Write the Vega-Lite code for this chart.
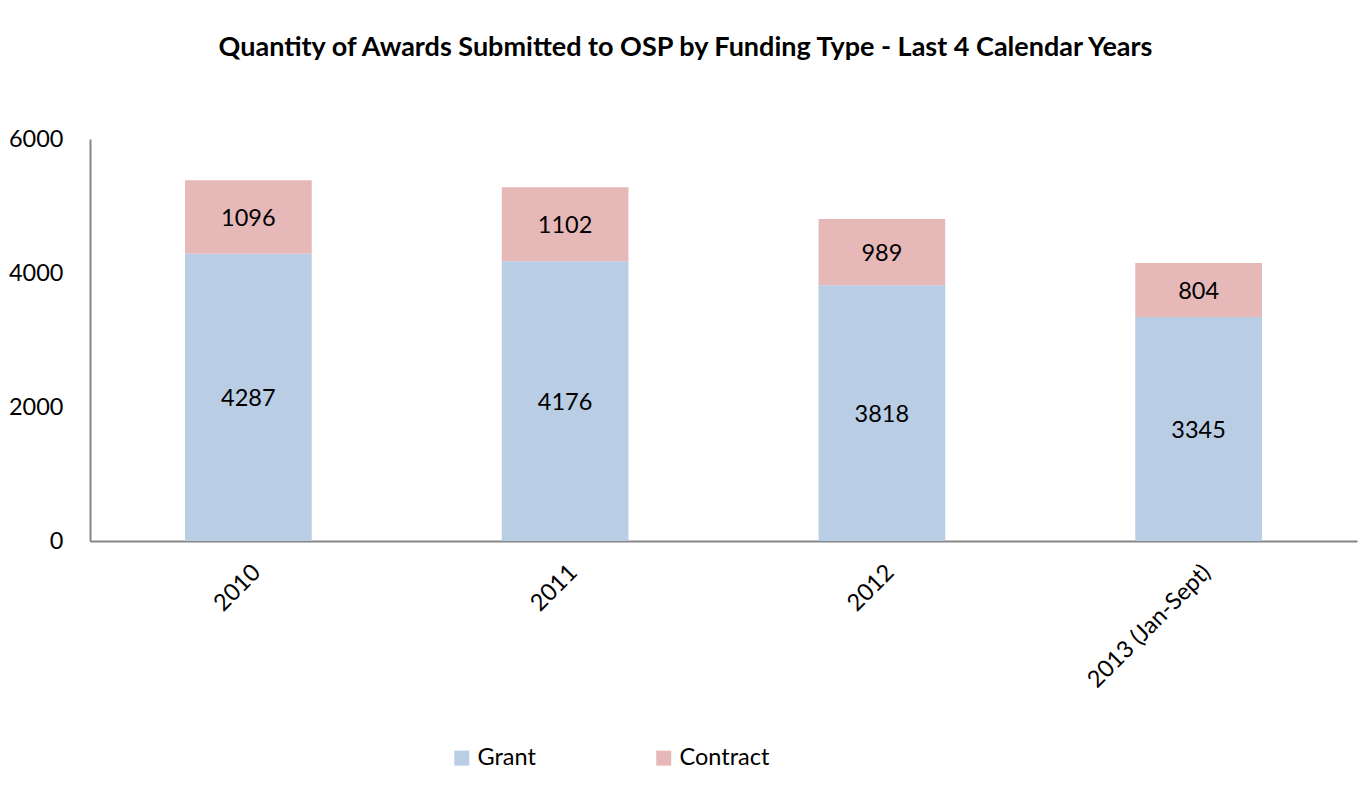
{
  "$schema": "https://vega.github.io/schema/vega-lite/v6.json",
  "width": 1267,
  "height": 402,
  "autosize": "none",
  "padding": {"left": 90, "top": 139, "right": 13, "bottom": 261},
  "background": "white",
  "config": {
    "font": "Lato",
    "view": {"stroke": null}
  },
  "title": {
    "text": "Quantity of Awards Submitted to OSP by Funding Type - Last 4 Calendar Years",
    "font": "Lato",
    "fontSize": 27,
    "fontWeight": "bold",
    "color": "#000000",
    "anchor": "middle",
    "frame": "group",
    "dx": -38,
    "offset": 65
  },
  "data": {
    "values": [
      {"year": "2010", "type": "Grant", "count": 4287},
      {"year": "2010", "type": "Contract", "count": 1096},
      {"year": "2011", "type": "Grant", "count": 4176},
      {"year": "2011", "type": "Contract", "count": 1102},
      {"year": "2012", "type": "Grant", "count": 3818},
      {"year": "2012", "type": "Contract", "count": 989},
      {"year": "2013 (Jan-Sept)", "type": "Grant", "count": 3345},
      {"year": "2013 (Jan-Sept)", "type": "Contract", "count": 804}
    ]
  },
  "encoding": {
    "x": {
      "field": "year",
      "type": "nominal",
      "sort": null,
      "scale": {"paddingInner": 0.6, "paddingOuter": 0.3},
      "axis": {
        "title": null,
        "labelAngle": -45,
        "labelFontSize": 23.5,
        "labelColor": "#000000",
        "labelPadding": 19,
        "ticks": false,
        "tickSize": 0,
        "domainColor": "#868686",
        "domainWidth": 2
      }
    }
  },
  "layer": [
    {
      "mark": {"type": "bar"},
      "encoding": {
        "y": {
          "field": "count",
          "type": "quantitative",
          "stack": "zero",
          "scale": {"domain": [0, 6000]},
          "axis": {
            "title": null,
            "values": [0, 2000, 4000, 6000],
            "format": "d",
            "grid": false,
            "labelFontSize": 23.5,
            "labelColor": "#000000",
            "labelPadding": 27,
            "ticks": false,
            "tickSize": 0,
            "domainColor": "#868686",
            "domainWidth": 2
          }
        },
        "color": {
          "field": "type",
          "type": "nominal",
          "scale": {"domain": ["Grant", "Contract"], "range": ["#B9CDE5", "#E6B9B8"]},
          "legend": {
            "title": null,
            "orient": "none",
            "direction": "horizontal",
            "legendX": 360,
            "legendY": 607,
            "symbolType": "square",
            "symbolSize": 225,
            "symbolStrokeWidth": 0,
            "labelFontSize": 23.5,
            "labelColor": "#000000",
            "labelOffset": 4,
            "columnPadding": 116
          }
        },
        "order": {"field": "type", "sort": "descending"}
      }
    },
    {
      "mark": {"type": "text", "fontSize": 23.5, "color": "#000000", "baseline": "middle", "dy": 2},
      "encoding": {
        "y": {"field": "count", "type": "quantitative", "stack": "zero", "bandPosition": 0.5},
        "detail": {"field": "type", "type": "nominal"},
        "order": {"field": "type", "sort": "descending"},
        "text": {"field": "count", "type": "quantitative"}
      }
    }
  ]
}
